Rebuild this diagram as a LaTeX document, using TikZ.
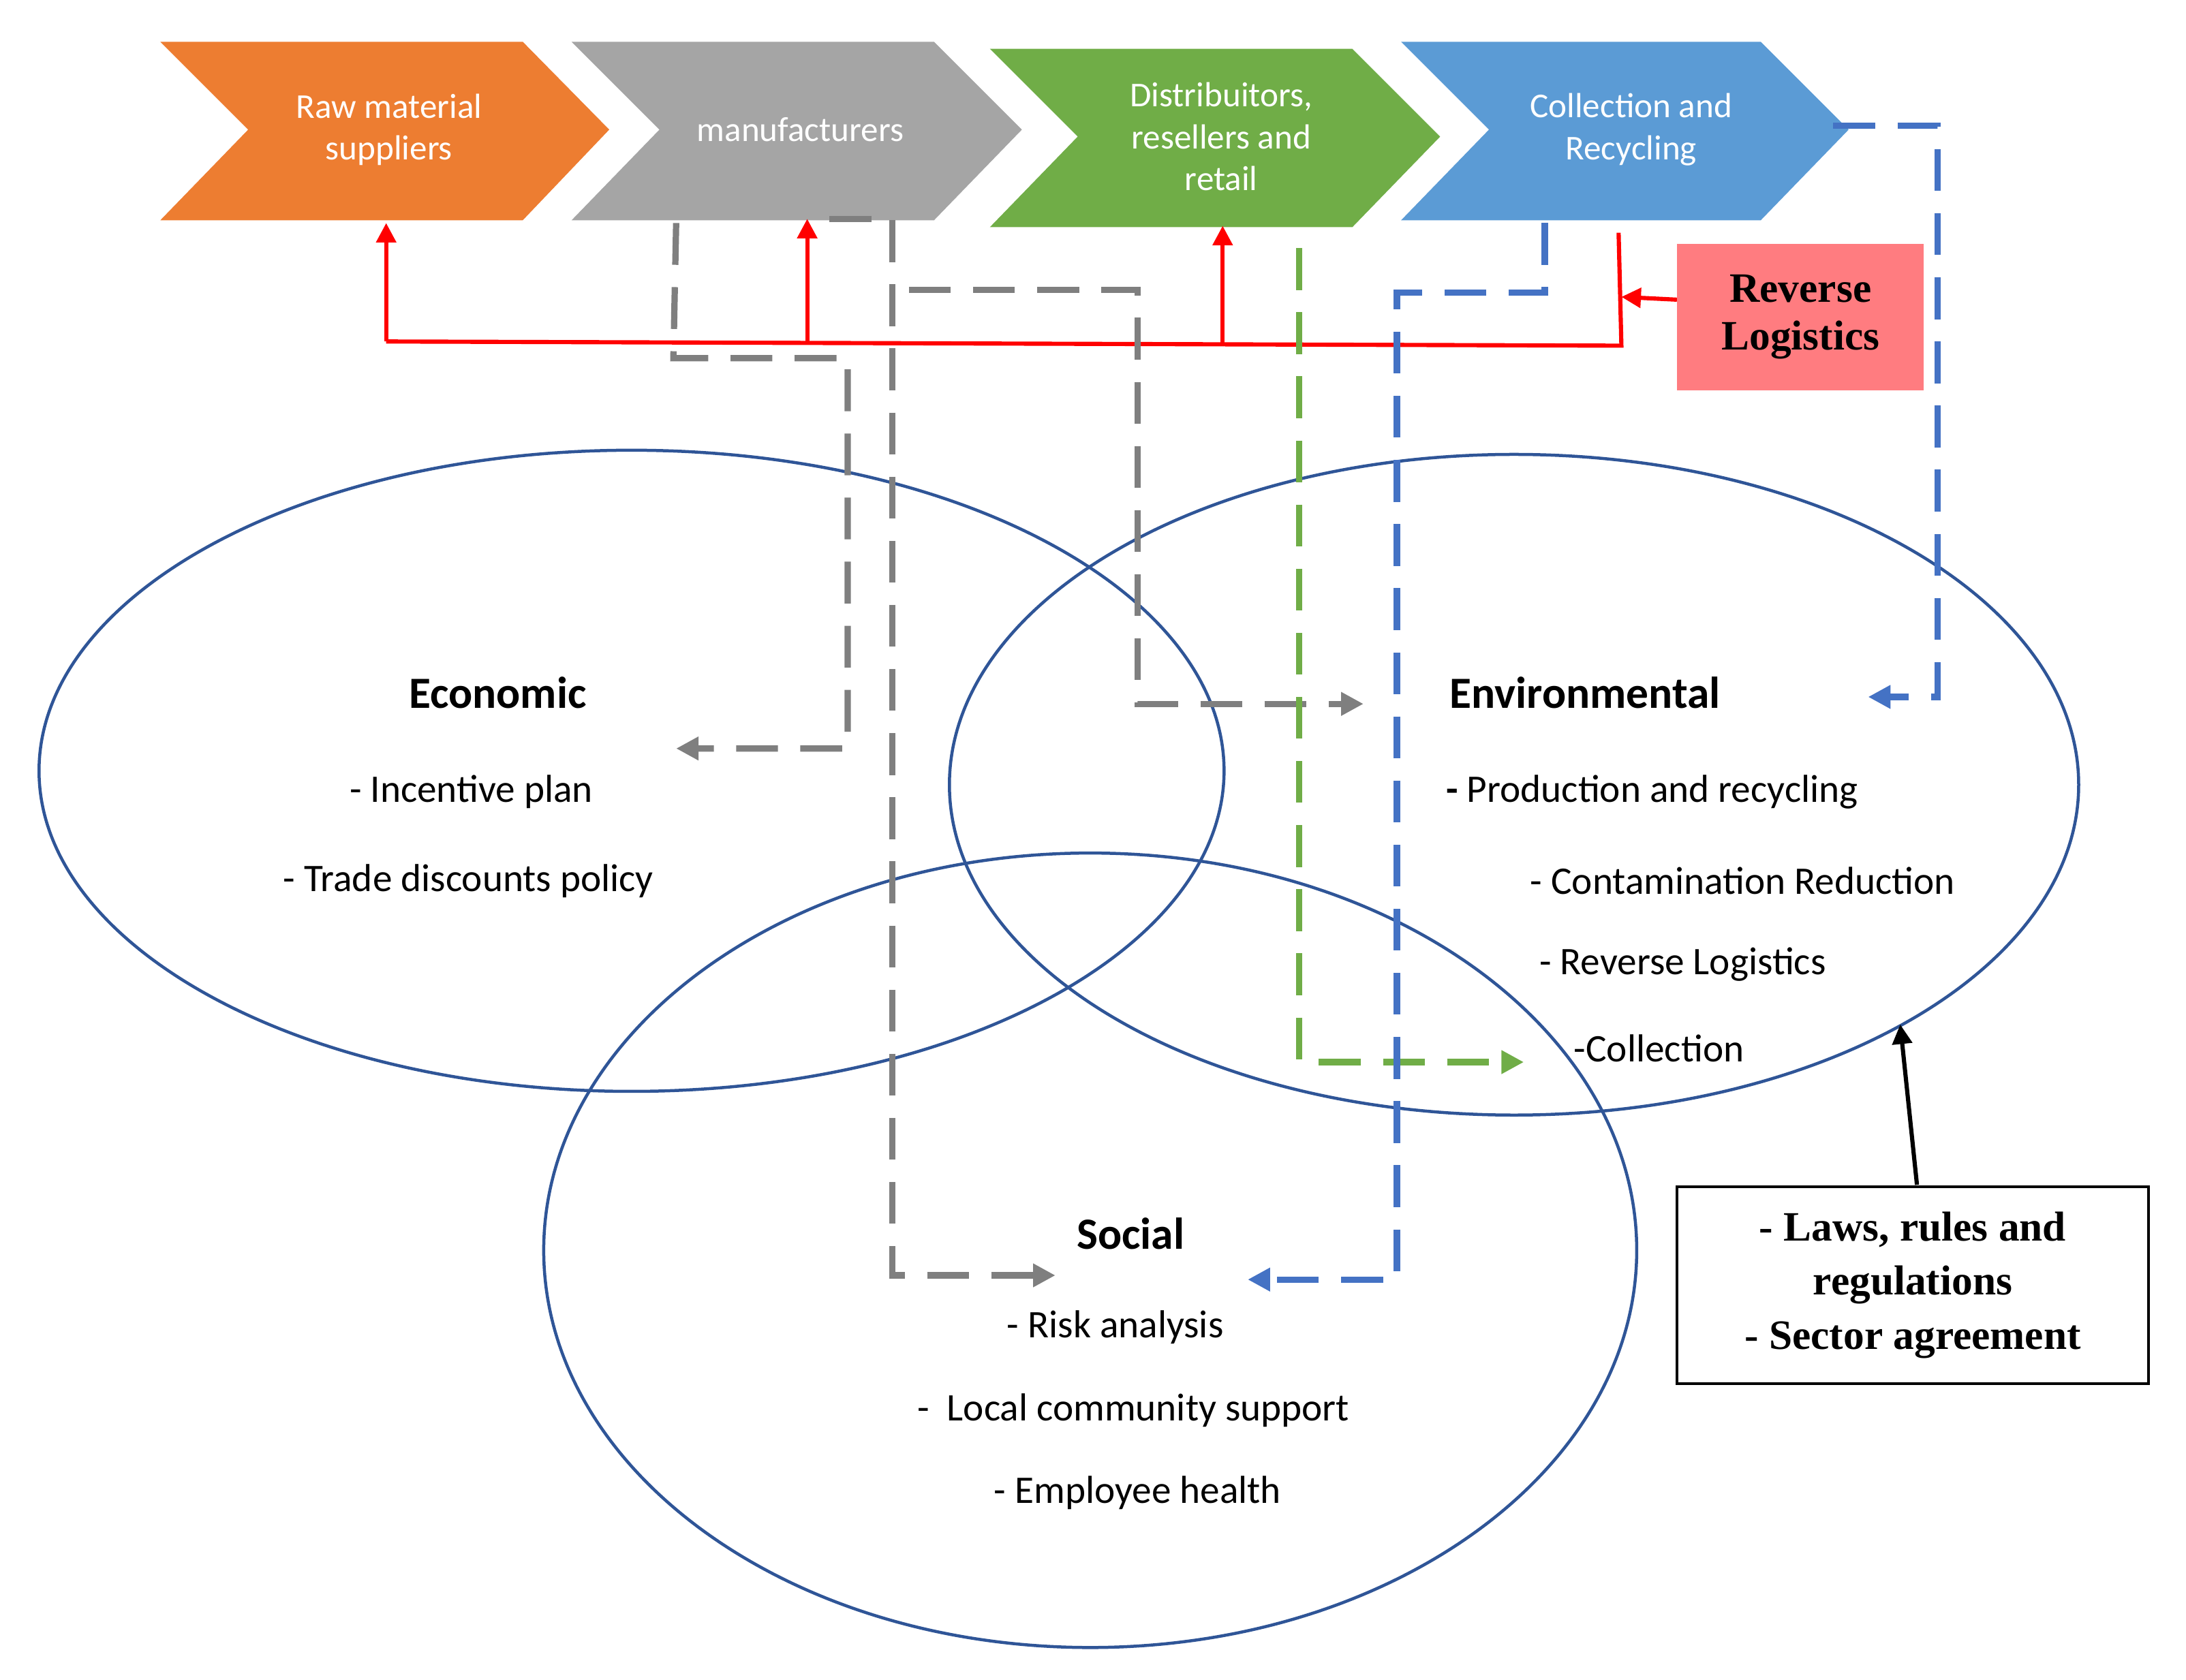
\documentclass[tikz,border=0pt]{standalone}
\usepackage{fontspec}
\setmainfont{Carlito}
\newfontfamily\tms{Liberation Serif}
\usetikzlibrary{arrows.meta}
\definecolor{cor}{HTML}{ED7D31}\definecolor{cgr}{HTML}{A5A5A5}
\definecolor{cgn}{HTML}{70AD47}\definecolor{cbl}{HTML}{5B9BD5}
\definecolor{ell}{HTML}{2F5597}\definecolor{dg}{HTML}{7F7F7F}
\definecolor{dgn}{HTML}{70AD47}\definecolor{dbl}{HTML}{4472C4}
\definecolor{rl}{HTML}{FF7C80}
\begin{document}
\begin{tikzpicture}[x=1pt,y=-1pt,
 ctext/.style={text=white,font=\fontsize{25}{30}\selectfont,align=center},
 body/.style={font=\fontsize{28}{34}\selectfont},
 head/.style={font=\fontsize{32}{38}\selectfont\bfseries},
 ell/.style={draw=ell,line width=2.2pt},
 dsh/.style={line width=4.5pt,dash pattern=on 30pt off 16pt,-{Triangle[length=16pt,width=16pt]}},
 red/.style={draw=red,line width=3pt},
 rar/.style={red,-{Triangle[length=14pt,width=14pt]}}]
\useasboundingbox (0,0) rectangle (1568,1205);
\fill[cor] (115,30)--(375,30)--(437,93)--(375,158)--(115,158)--(178,93)--cycle;
\fill[cgr] (410,30)--(670,30)--(733,93)--(670,158)--(410,158)--(473,93)--cycle;
\fill[cgn] (710,35)--(970,35)--(1033,98)--(970,163)--(710,163)--(773,98)--cycle;
\fill[cbl] (1005,30)--(1263,30)--(1326,93)--(1263,158)--(1005,158)--(1068,93)--cycle;
\node[ctext] (c1) at (279,93) {Raw material\\suppliers};
\node[ctext] (c2) at (574,93) {manufacturers};
\node[ctext] (c3) at (876,98) {Distribuitors,\\resellers and\\retail};
\node[ctext] (c4) at (1170,93) {Collection and\\Recycling};
\draw[ell] (453,553) ellipse [x radius=425,y radius=230];
\draw[ell] (1086,563) ellipse [x radius=405,y radius=237];
\draw[ell] (782,897) ellipse [x radius=392,y radius=285];
% red
\coordinate (rA) at (277,245); \coordinate (rB) at (1163,248);
\draw[red] (rA)--(rB)--(1161,167);
\draw[rar] (rA)--(277,160);
\draw[rar] (579,246)--(579,157);
\draw[rar] (877,247)--(877,162);
\node[fill=rl,minimum width=177pt,minimum height=105pt,font=\tms\fontsize{30}{34}\selectfont\bfseries,align=center] (rev) at (1291.5,227.5) {Reverse\\Logistics};
\draw[rar] (rev.west|-0,215)--(1163,213);
% gray dashed
\draw[dg,dsh] (485,160)--(483,257)--(608,257)--(608,537)--(485,537);
\draw[dg,dsh] (595,157)--(640,157)--(640,915)--(757,915);
\draw[dg,dsh] (652,208)--(816,208)--(816,505)--(978,505);
\draw[dgn,dsh] (932,178)--(932,762)--(1093,762);
\draw[dbl,dsh] (1315,90)--(1390,90)--(1390,500)--(1340,500);
\draw[dbl,dsh] (1108,160)--(1108,210)--(1002,210)--(1002,918)--(895,918);
% texts
\node[head] (eco) at (357,497) {Economic};
\node[body] at (338,568) {- Incentive plan};
\node[body] at (336,632) {- Trade discounts policy};
\node[head] (env) at (1137,497) {Environmental};
\node[body] at (1185,568) {\textbf{-} Production and recycling};
\node[body] at (1250,632) {- Contamination Reduction};
\node[body] at (1207,692) {- Reverse Logistics};
\node[body] at (1190,752) {-Collection};
\node[head] (soc) at (811,885) {Social};
\node[body] at (800,952) {- Risk analysis};
\node[body] at (813,1012) {-\ \ Local community support};
\node[body] at (816,1071) {- Employee health};
\node[draw,line width=2pt,minimum width=338pt,minimum height=141pt,align=center,font=\tms\fontsize{30}{39}\selectfont\bfseries] (law) at (1372,922) {- Laws, rules and\\regulations\\- Sector agreement};
\draw[line width=3pt,-{Triangle[length=14pt,width=14pt]}] (1375,850)--(1363,735);
\end{tikzpicture}
\end{document}
